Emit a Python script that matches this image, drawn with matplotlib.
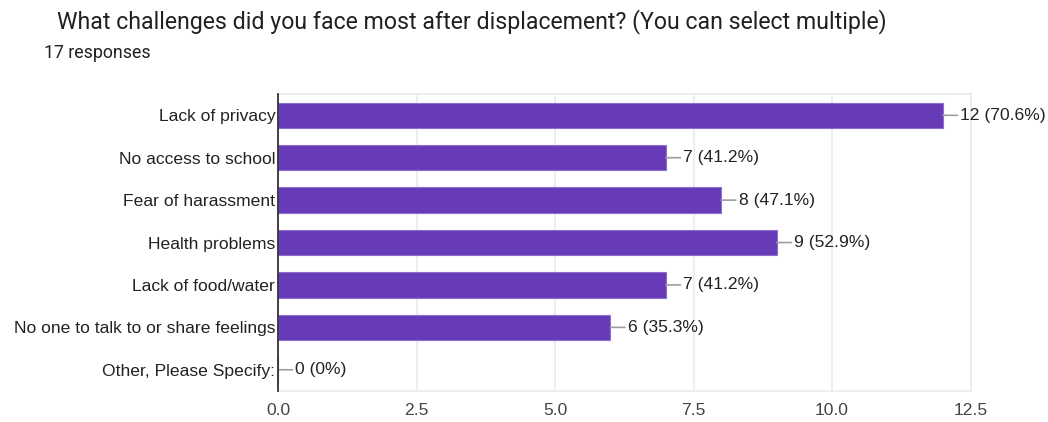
import matplotlib
matplotlib.use("Agg")
import matplotlib.pyplot as plt

categories = [
    "Lack of privacy",
    "No access to school",
    "Fear of harassment",
    "Health problems",
    "Lack of food/water",
    "No one to talk to or share feelings",
    "Other, Please Specify:",
]
counts = [12, 7, 8, 9, 7, 6, 0]
percents = ["70.6%", "41.2%", "47.1%", "52.9%", "41.2%", "35.3%", "0%"]
xticks = [0.0, 2.5, 5.0, 7.5, 10.0, 12.5]

title = "What challenges did you face most after displacement? (You can select multiple)"
subtitle = "17 responses"

bar_color = "#673ab7"
grid_color = "#ebebeb"
label_font = "Liberation Sans"

fig = plt.figure(figsize=(10.48, 4.22), dpi=100)
ax = fig.add_axes([0.2653, 0.0735, 0.6608, 0.7035])

y = list(range(len(categories)))
ax.barh(y, counts, height=0.6, color=bar_color, edgecolor="#8c6fd1",
        linewidth=0.8, zorder=3)

for yi, c, p in zip(y, counts, percents):
    ax.annotate(f"{c} ({p})", xy=(c, yi), xytext=(12.5, 0),
                textcoords="offset points", ha="left", va="center",
                fontsize=12.6, color="#222222", family=label_font,
                arrowprops=dict(arrowstyle="-", color="#9e9e9e", lw=1.2,
                                shrinkA=0, shrinkB=0, relpos=(0, 0.5)),
                zorder=4)

ax.set_xlim(0, 12.5)
ax.set_ylim(len(categories) - 0.5, -0.5)
ax.set_xticks(xticks)
ax.set_xticklabels([f"{t:.1f}" for t in xticks], fontsize=12.6,
                   color="#444444", family=label_font)
ax.set_yticks(y)
ax.set_yticklabels(categories, fontsize=12.6, color="#222222",
                   family=label_font)
ax.tick_params(axis="both", length=0)
ax.tick_params(axis="x", pad=9)
ax.tick_params(axis="y", pad=2)

ax.grid(axis="x", color=grid_color, linewidth=1.2, zorder=0)
for side in ("top", "right", "bottom"):
    ax.spines[side].set_color(grid_color)
    ax.spines[side].set_linewidth(1.2)
ax.spines["left"].set_color("#333333")
ax.spines["left"].set_linewidth(1.3)
ax.spines["left"].set_zorder(5)

fig.text(57 / 1048, 1 - 22 / 422, title, fontsize=16.7, family="Roboto",
         color="#202124", va="center", ha="left")
fig.text(44 / 1048, 1 - 53 / 422, subtitle, fontsize=12.8, family="Roboto",
         color="#202124", va="center", ha="left")

fig.savefig("out.png", dpi=100, facecolor="white")
